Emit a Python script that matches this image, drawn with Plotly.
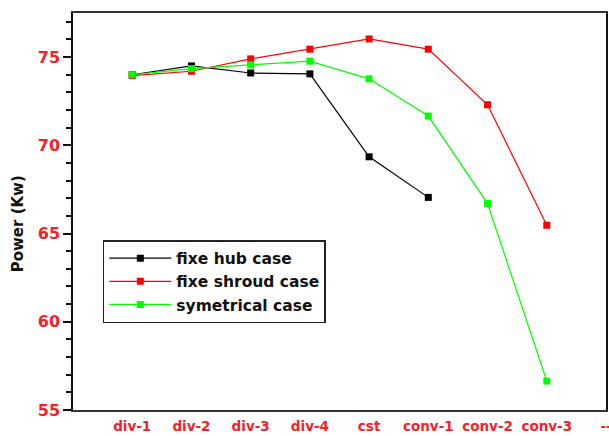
import plotly.graph_objects as go

# Stage configurations along the x axis
categories = ["div-1", "div-2", "div-3", "div-4", "cst", "conv-1", "conv-2", "conv-3", "--"]

# Power output (kW) for each casing case
fixe_hub = [74.0, 74.5, 74.1, 74.05, 69.35, 67.05]
fixe_shroud = [73.95, 74.2, 74.9, 75.45, 76.03, 75.45, 72.3, 65.47]
symetrical = [74.0, 74.35, 74.56, 74.77, 73.77, 71.66, 66.7, 56.64]

y_ticks = [55, 60, 65, 70, 75]

series = [
    ("fixe hub case", fixe_hub, "#000000"),
    ("fixe shroud case", fixe_shroud, "#ff0000"),
    ("symetrical case", symetrical, "#00ff00"),
]

FONT = "DejaVu Sans"
LABEL_RED = "#f2222a"

fig = go.Figure()
for name, values, color in series:
    fig.add_trace(go.Scatter(
        x=list(range(len(values))),
        y=values,
        name=name,
        mode="lines+markers",
        line=dict(color=color, width=1.2),
        marker=dict(symbol="square", size=7, color=color),
    ))

fig.update_layout(
    width=609,
    height=436,
    margin=dict(l=73, r=3, t=13, b=26),
    paper_bgcolor="white",
    plot_bgcolor="white",
    showlegend=True,
    legend=dict(
        x=0.056, y=0.428, xanchor="left", yanchor="top",
        bordercolor="#222222", borderwidth=1.5,
        bgcolor="white",
        itemwidth=62,
        font=dict(family=FONT, size=15.5, color="#111111", weight="bold"),
        tracegroupgap=0,
    ),
    xaxis=dict(
        range=[-1, 8.0],
        automargin=False,
        tickmode="array",
        tickvals=list(range(len(categories))),
        ticktext=categories,
        ticks="",
        ticklabelstandoff=3,
        ticklabeloverflow="allow",
        showgrid=False,
        zeroline=False,
        showline=True,
        linecolor="#333333",
        linewidth=1.5,
        mirror=True,
        tickfont=dict(family=FONT, size=13.5, color=LABEL_RED, weight="bold"),
    ),
    yaxis=dict(
        range=[55, 77.5],
        automargin=False,
        tickmode="array",
        tickvals=y_ticks,
        ticks="outside",
        ticklen=8,
        tickwidth=1.5,
        tickcolor="#111111",
        minor=dict(ticks="outside", ticklen=5, tickwidth=1.5, tickcolor="#111111", dtick=1),
        showgrid=False,
        zeroline=False,
        showline=True,
        linecolor="#111111",
        linewidth=1.5,
        mirror=True,
        tickfont=dict(family=FONT, size=16, color=LABEL_RED, weight="bold"),
    ),
)

# Vertical axis title, placed a little below the plot's mid-height
fig.add_annotation(
    text="Power (Kw)",
    xref="paper", yref="paper",
    x=-0.103, y=0.468,
    xanchor="center", yanchor="middle",
    textangle=-90,
    showarrow=False,
    font=dict(family=FONT, size=15, color="#111111", weight="bold"),
)

fig.write_html("out.html")
